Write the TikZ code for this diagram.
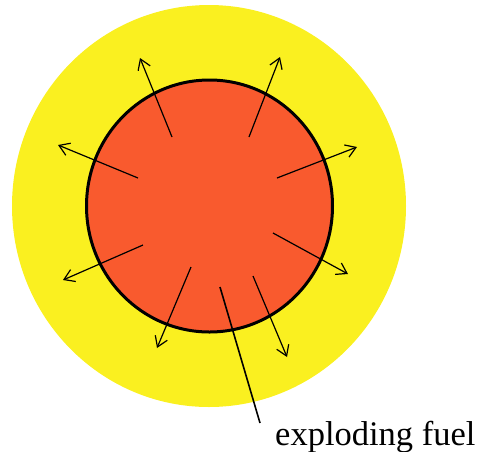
\documentclass[tikz,border=0pt]{standalone}
\usepackage{fontspec}
\setmainfont{Liberation Serif}
\usetikzlibrary{arrows.meta,shapes.geometric}
\definecolor{fireyellow}{RGB}{250,240,32}
\definecolor{fuelred}{RGB}{249,90,46}
\tikzset{
  blast/.style={draw=black, line width=1.2pt, -{Straight Barb[length=10pt,width=13pt,line width=1.2pt]}},
  pointer/.style={draw=black, line width=1.6pt},
}
\begin{document}
\begin{tikzpicture}[x=1pt,y=-1pt]
\useasboundingbox (0,0) rectangle (477,451);
\fill[fireyellow] (209,206) ellipse [x radius=197, y radius=201];
\node[ellipse, fill=fuelred, draw=black, line width=3pt, minimum width=246pt, minimum height=252pt, inner sep=0pt] (fuel) at (209.5,206) {};
\coordinate (s1) at (172,137); \coordinate (e1) at (140,58);
\coordinate (s2) at (249,137); \coordinate (e2) at (280,57);
\coordinate (s3) at (138,178); \coordinate (e3) at (58,145);
\coordinate (s4) at (277,178); \coordinate (e4) at (357,147);
\coordinate (s5) at (143,245); \coordinate (e5) at (63,280);
\coordinate (s6) at (273,233); \coordinate (e6) at (348,274);
\coordinate (s7) at (191,267); \coordinate (e7) at (157,348);
\coordinate (s8) at (253,276); \coordinate (e8) at (287,357);
\foreach \i in {1,...,8} { \draw[blast] (s\i) -- (e\i); }
\coordinate (p0) at (220,287);
\node[anchor=base west, inner sep=0pt, font=\fontsize{34.5}{40}\selectfont] (label) at (275,445) {exploding fuel};
\coordinate (p1) at (260,423);
\draw[pointer] (p0) -- (p1);
\end{tikzpicture}
\end{document}
